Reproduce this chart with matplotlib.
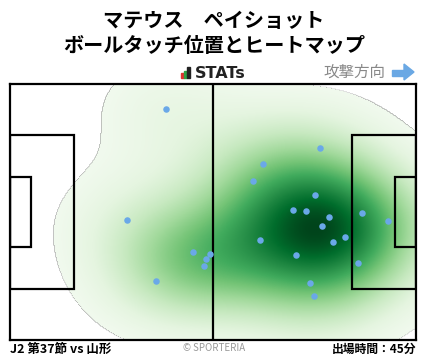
import matplotlib
matplotlib.use('Agg')
import matplotlib.pyplot as plt
from matplotlib.patches import Rectangle, Polygon
import numpy as np

plt.rcParams['font.family'] = ['Noto Sans CJK JP', 'DejaVu Sans']

# データ（ピッチ座標: x 0-105, y 0-68 上から）
touch_x = [40.3, 80.3, 65.5, 62.9, 79.0, 30.3, 47.4, 51.7, 50.8, 50.3, 37.8, 73.3,
           76.6, 82.6, 80.8, 91.1, 97.8, 64.7, 83.6, 86.7, 74.0, 90.1, 77.7, 78.7]
touch_y = [6.7, 17.1, 21.3, 25.8, 29.6, 36.2, 44.7, 45.2, 46.6, 48.4, 52.4, 33.6,
           33.8, 35.4, 37.8, 34.3, 36.5, 41.5, 42.1, 40.7, 45.5, 47.6, 52.9, 56.4]

title = 'マテウス　ペイショット\nボールタッチ位置とヒートマップ'
match_label = 'J2 第37節 vs 山形'
minutes_label = '出場時間：45分'

W, H = 428, 359
fig = plt.figure(figsize=(W / 100, H / 100), dpi=100)

def fx(px):
    return px / W

def fy(py):
    return 1 - py / H

# タイトル
fig.text(0.5, fy(33), title, ha='center', va='center', fontsize=14.5,
         fontweight='bold', linespacing=1.2)

# STATs ロゴ
for x0, y0, col in [(181, 73, '#e03030'), (184, 71, '#2ea043'), (187, 67, '#222222')]:
    fig.patches.append(Rectangle((fx(x0), fy(78)), 2.6 / W, (78 - y0) / H,
                                 transform=fig.transFigure, color=col))
fig.text(fx(195), fy(73), 'STATs', ha='left', va='center', fontsize=11.5,
         fontweight='bold', color='#222222', family='DejaVu Sans')

# 攻撃方向
fig.text(fx(385), fy(72), '攻撃方向', ha='right', va='center', fontsize=11.2,
         color='#888888')
arrow_col = '#6aa8e4'
fig.patches.append(Rectangle((fx(392), fy(76)), 12 / W, 6 / H,
                             transform=fig.transFigure, color=arrow_col))
fig.patches.append(Polygon([(fx(404), fy(64)), (fx(414), fy(72)), (fx(404), fy(80))],
                           closed=True, transform=fig.transFigure, color=arrow_col))

# ピッチ
ax = fig.add_axes([fx(10), fy(340), 406 / W, 256 / H])
ax.set_xlim(0, 105)
ax.set_ylim(68, 0)
ax.set_xticks([])
ax.set_yticks([])

# ヒートマップ（KDE）
gx, gy = np.meshgrid(np.linspace(0, 105, 400), np.linspace(0, 68, 260))
dens = np.zeros_like(gx)
for x, y in zip(touch_x, touch_y):
    dens += np.exp(-((gx - x) ** 2 / (2 * 14.0 ** 2) + (gy - y) ** 2 / (2 * 11.0 ** 2)))
dens = dens / dens.max()
dens = np.where(dens < 0.05, np.nan, dens ** 1.05)
ax.imshow(dens, extent=(0, 105, 68, 0), cmap='Greens', vmin=0.0, vmax=1.0,
          interpolation='bilinear', aspect='auto', zorder=1)

lw = 1.6
lc = 'black'
ax.axvline(52.5, color=lc, lw=lw, zorder=2)
box_y0 = (135 - 84) / 256 * 68
box_y1 = (289 - 84) / 256 * 68
ga_y0 = (177 - 84) / 256 * 68
ga_y1 = (247 - 84) / 256 * 68
box_w = 64 / 406 * 105
ga_w = 21 / 406 * 105
for x0, w in [(0, box_w), (105 - box_w, box_w), (0, ga_w), (105 - ga_w, ga_w)]:
    y0, y1 = (box_y0, box_y1) if w == box_w else (ga_y0, ga_y1)
    ax.add_patch(Rectangle((x0, y0), w, y1 - y0, fill=False, ec=lc, lw=lw, zorder=2))
for s in ax.spines.values():
    s.set_linewidth(lw)

ax.scatter(touch_x, touch_y, s=22, color='#6aa8e8', zorder=3, linewidths=0)

# フッター
fig.text(fx(10), fy(349), match_label, ha='left', va='center', fontsize=9,
         fontweight='bold')
fig.text(0.5, fy(348), '© SPORTERIA', ha='center', va='center', fontsize=7,
         color='#999999')
fig.text(fx(416), fy(349), minutes_label, ha='right', va='center', fontsize=8.5,
         fontweight='bold')

fig.savefig('out.png', dpi=100)
